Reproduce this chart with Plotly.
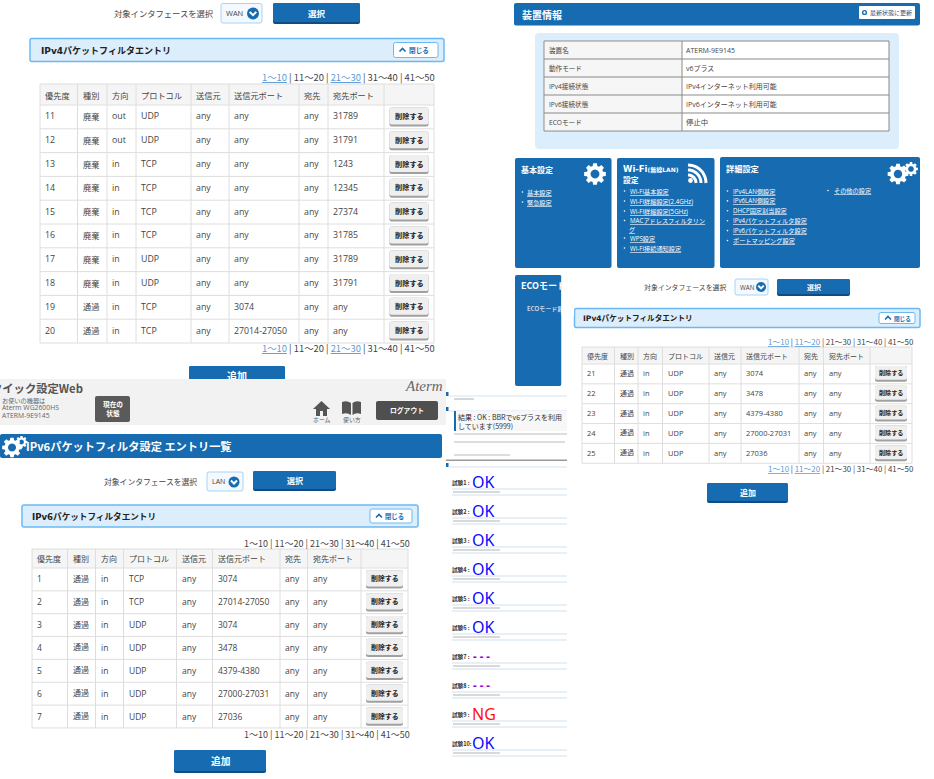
import math
import plotly.graph_objects as go

# --- テーブルのデータ ---
COLUMNS = ["優先度", "種別", "方向", "プロトコル", "送信元", "送信元ポート", "宛先", "宛先ポート"]

IPV4_11_20 = [
    ["11", "廃棄", "out", "UDP", "any", "any", "any", "31789"],
    ["12", "廃棄", "out", "UDP", "any", "any", "any", "31791"],
    ["13", "廃棄", "in", "TCP", "any", "any", "any", "1243"],
    ["14", "廃棄", "in", "TCP", "any", "any", "any", "12345"],
    ["15", "廃棄", "in", "TCP", "any", "any", "any", "27374"],
    ["16", "廃棄", "in", "TCP", "any", "any", "any", "31785"],
    ["17", "廃棄", "in", "UDP", "any", "any", "any", "31789"],
    ["18", "廃棄", "in", "UDP", "any", "any", "any", "31791"],
    ["19", "通過", "in", "TCP", "any", "3074", "any", "any"],
    ["20", "通過", "in", "TCP", "any", "27014-27050", "any", "any"],
]
IPV4_21_25 = [
    ["21", "通過", "in", "UDP", "any", "3074", "any", "any"],
    ["22", "通過", "in", "UDP", "any", "3478", "any", "any"],
    ["23", "通過", "in", "UDP", "any", "4379-4380", "any", "any"],
    ["24", "通過", "in", "UDP", "any", "27000-27031", "any", "any"],
    ["25", "通過", "in", "UDP", "any", "27036", "any", "any"],
]
IPV6_1_7 = [
    ["1", "通過", "in", "TCP", "any", "3074", "any", "any"],
    ["2", "通過", "in", "TCP", "any", "27014-27050", "any", "any"],
    ["3", "通過", "in", "UDP", "any", "3074", "any", "any"],
    ["4", "通過", "in", "UDP", "any", "3478", "any", "any"],
    ["5", "通過", "in", "UDP", "any", "4379-4380", "any", "any"],
    ["6", "通過", "in", "UDP", "any", "27000-27031", "any", "any"],
    ["7", "通過", "in", "UDP", "any", "27036", "any", "any"],
]
PAGES = ["1～10", "11～20", "21～30", "31～40", "41～50"]

DEVICE_INFO = [
    ["装置名", "ATERM-9E9145"],
    ["動作モード", "v6プラス"],
    ["IPv4接続状態", "IPv4インターネット利用可能"],
    ["IPv6接続状態", "IPv6インターネット利用可能"],
    ["ECOモード", "停止中"],
]
BASIC_LINKS = ["基本設定", "緊急設定"]
WIFI_LINKS = ["Wi-Fi基本設定", "Wi-Fi詳細設定(2.4GHz)", "Wi-Fi詳細設定(5GHz)", "MACアドレスフィルタリン", "グ", "WPS設定", "Wi-Fi接続通知設定"]
DETAIL_LINKS = ["IPv4LAN側設定", "IPv6LAN側設定", "DHCP固定割当設定", "IPv4パケットフィルタ設定", "IPv6パケットフィルタ設定", "ポートマッピング設定"]
TEST_LABELS = ["試験1 :", "試験2 :", "試験3 :", "試験4 :", "試験5 :", "試験6 :", "試験7 :", "試験8 :", "試験9 :", "試験10:"]
TEST_RESULTS = ["OK", "OK", "OK", "OK", "OK", "OK", "---", "---", "NG", "OK"]

BLUE = "#176bb0"
DARK = "#0e4c82"
PALE = "#dcedfb"
EDGE = "#6bb9f3"
GRID = "#dedede"
TEXT = "#444444"
LINK = "#5b9bd5"
FONT = "Open Sans, Noto Sans CJK JP"
JP = "Noto Sans CJK JP"
TITLE_FONT = "DejaVu Sans, Noto Sans CJK JP"

shapes = []
notes = []
clipped = []  # パネルの下に隠れる文字


def rect(x0, y0, x1, y1, fill=None, line=None, lw=1, r=0, layer="below"):
    if r:
        path = (f"M{x0+r},{y0} L{x1-r},{y0} Q{x1},{y0} {x1},{y0+r} L{x1},{y1-r} Q{x1},{y1} {x1-r},{y1} "
                f"L{x0+r},{y1} Q{x0},{y1} {x0},{y1-r} L{x0},{y0+r} Q{x0},{y0} {x0+r},{y0} Z")
    else:
        path = f"M{x0},{y0} L{x1},{y0} L{x1},{y1} L{x0},{y1} Z"
    shapes.append(dict(type="path", path=path, xref="x", yref="y", layer=layer,
                       fillcolor=fill or "rgba(0,0,0,0)",
                       line=dict(color=line or "rgba(0,0,0,0)", width=lw if line else 0)))


def stroke(path, color, lw):
    shapes.append(dict(type="path", path=path, xref="x", yref="y", layer="below",
                       line=dict(color=color, width=lw), fillcolor="rgba(0,0,0,0)"))


def fill_path(path, color):
    shapes.append(dict(type="path", path=path, xref="x", yref="y", layer="below",
                       fillcolor=color, line=dict(width=0)))


def label(x, y, text, size=10, color=TEXT, anchor="left", bold=False, family=FONT, under=False):
    font = dict(size=size, color=color, family=family)
    if under:
        font["lineposition"] = "under"
    notes.append(dict(x=x, y=y, xref="x", yref="y", text=f"<b>{text}</b>" if bold else text,
                      showarrow=False, xanchor=anchor, yanchor="middle", font=font,
                      borderpad=0, borderwidth=0))


def gear(cx, cy, r, color="white", teeth=8):
    pts = []
    for i in range(teeth):
        a = 2 * math.pi * i / teeth
        w = math.pi / teeth * 0.55
        for da, rr in [(-w * 1.3, 0.76), (-w * 0.8, 1.0), (w * 0.8, 1.0), (w * 1.3, 0.76)]:
            pts.append((cx + rr * r * math.cos(a + da), cy + rr * r * math.sin(a + da)))
    path = "M" + " L".join(f"{x:.2f},{y:.2f}" for x, y in pts) + " Z "
    hole = [(cx + 0.4 * r * math.cos(-t * math.pi / 12), cy + 0.4 * r * math.sin(-t * math.pi / 12)) for t in range(24)]
    path += "M" + " L".join(f"{x:.2f},{y:.2f}" for x, y in hole) + " Z"
    fill_path(path, color)


def circle(cx, cy, r, color):
    shapes.append(dict(type="circle", xref="x", yref="y", x0=cx - r, x1=cx + r, y0=cy - r, y1=cy + r,
                       layer="below", fillcolor=color, line=dict(width=0)))


def button(x0, y0, x1, y1, text, size=10):
    rect(x0, y0, x1, y1, DARK, r=2)
    rect(x0, y0, x1, y1 - 2, BLUE, r=2)
    label((x0 + x1) / 2, (y0 + y1) / 2 - 1, text, size, "white", "center", True, JP)


def pagination(right, y, links, size):
    parts = []
    for i, p in enumerate(PAGES):
        if i in links:
            parts.append(f'<span style="color:{LINK};text-decoration:underline">{p}</span>')
        else:
            parts.append(p)
    label(right, y, " | ".join(parts), size, TEXT, "right", family=JP)


def table(xs, top, head_h, row_h, rows, size, jp_size, del_w, del_size):
    bottom = top + head_h + row_h * len(rows)
    rect(xs[0], top, xs[-1], top + head_h, "#f5f5f5")
    for i, name in enumerate(COLUMNS):
        label(xs[i] + 5, top + head_h / 2, name, jp_size, TEXT, family=JP)
    for i, row in enumerate(rows):
        cy = top + head_h + row_h * (i + 0.5)
        for j, value in enumerate(row):
            if value.isascii():
                label(xs[j] + 5, cy - 0.5, value, size, TEXT)
            else:
                label(xs[j] + 5, cy - 1, value, jp_size, TEXT, family=JP)
        bx0 = (xs[-2] + xs[-1] - del_w) / 2
        rect(bx0, cy - row_h * 0.4, bx0 + del_w, cy + row_h * 0.4, "#a0a0a0", r=2)
        rect(bx0, cy - row_h * 0.4, bx0 + del_w, cy + row_h * 0.4 - 2, "#efefef", r=2)
        label(bx0 + del_w / 2, cy - 1, "削除する", del_size, "#222222", "center", True, JP)
    for x in xs:
        stroke(f"M{x},{top} L{x},{bottom}", GRID, 1)
    for i in range(len(rows) + 1):
        y = top + head_h + row_h * i
        stroke(f"M{xs[0]},{y} L{xs[-1]},{y}", GRID, 1)
    stroke(f"M{xs[0]},{top} L{xs[-1]},{top}", GRID, 1)


def chevron(cx, cy, s, color, lw, up=False):
    d = -s / 2 if up else s / 2
    stroke(f"M{cx-s},{cy-d} L{cx},{cy+d} L{cx+s},{cy-d}", color, lw)


def selector(lx, cy, box, circ, btn, iface, size, btn_size):
    label(lx, cy, "対象インタフェースを選択", size, TEXT, family=JP)
    rect(box[0], box[1], box[2], box[3], "#f3f9fe", "#a8d3f5", 1, 2)
    label(box[0] + 5, cy, iface, size * 0.9, TEXT)
    circle(circ[0], circ[1], circ[2], BLUE)
    chevron(circ[0], circ[1], circ[2] * 0.55, "white", 2)
    button(btn[0], btn[1], btn[2], btn[3], "選択", btn_size)


def filter_head(x0, y0, x1, y1, tx, title, close_x0, close_x1, size):
    rect(x0, y0, x1, y1, PALE, EDGE, 1.5, 2)
    cy = (y0 + y1) / 2
    label(tx, cy, title, size, "#222222", bold=True, family=TITLE_FONT)
    rect(close_x0, y0 + 4, close_x1, y1 - 4, "white", EDGE, 1, 2)
    chevron(close_x0 + 9, cy, 3, BLUE, 1.6, up=True)
    label(close_x0 + 15, cy, "閉じる", size * 0.74, BLUE, bold=True, family=JP)


# --- 左上: IPv4 11～20 ---
selector(114, 13, (221, 3.5, 262, 23), (253, 13.5, 6), (273, 3, 360, 24), "WAN", 8.3, 8.5)
filter_head(30, 38.5, 444, 61.5, 41, "IPv4パケットフィルタエントリ", 393.5, 438, 9)
pagination(435, 77, [0, 2], 9.4)
table([40, 77.5, 107, 136, 191, 229, 299, 328, 384, 434], 84, 21, 23.8, IPV4_11_20, 8.8, 8.2, 39, 7.2)
pagination(435, 348, [0, 2], 9.4)
rect(189, 366, 285, 392, DARK, r=2)
rect(189, 366, 285, 390, BLUE, r=2)
clipped.append((237, 377, "追加"))

# --- 右上: 装置情報 ---
rect(514, 3, 920, 25.5, BLUE, r=2)
label(522, 14, "装置情報", 10, "white", bold=True, family=JP)
rect(859, 6, 915, 19, "white", r=1)
circle(864.5, 12.5, 2.6, BLUE)
circle(864.5, 12.5, 1.2, "white")
label(870, 12.5, "最新状態に更新", 6, "#1a4f80", family=JP)
rect(535, 33, 899, 149, PALE, r=4)
rect(544, 41, 889, 131, "white", "#8a8a8a", 1)
rect(545, 42, 682, 130, "#f6f6f6")
for i, (name, value) in enumerate(DEVICE_INFO):
    cy = 41 + 18 * (i + 0.5)
    label(549, cy, name, 6.6, TEXT)
    label(686, cy, value, 7 if i != 4 else 7.4, TEXT)
    if i:
        stroke(f"M544,{41+18*i} L889,{41+18*i}", "#8a8a8a", 1)
stroke("M682,41 L682,131", "#8a8a8a", 1)

# カード
rect(515, 158, 611.5, 268, BLUE, r=2)
label(521, 169, "基本設定", 8, "white", bold=True, family=JP)
gear(595, 174, 11)
for i, name in enumerate(BASIC_LINKS):
    circle(522.5, 192 + 10 * i, 0.8, "white")
    label(527, 192 + 10 * i, name, 6.2, "white", family=JP, under=True)

rect(617, 158, 714.5, 268, BLUE, r=2)
label(623, 169, "Wi-Fi<span style='font-size:6px'>(無線LAN)</span>", 8.5, "white", bold=True, family=TITLE_FONT)
label(623, 179.5, "設定", 7.8, "white", bold=True, family=JP)
wifi_x, wifi_y = 688, 183
circle(wifi_x + 2.5, wifi_y - 2.5, 2.4, "white")
for rad in [8, 13, 18]:
    pts = [(wifi_x + rad * math.sin(t / 12 * math.pi / 2), wifi_y - rad * math.cos(t / 12 * math.pi / 2)) for t in range(13)]
    stroke("M" + " L".join(f"{x:.1f},{y:.1f}" for x, y in pts), "white", 3)
link_ys = [191, 201, 211, 220.5, 229, 238, 248]
for name, y in zip(WIFI_LINKS, link_ys):
    if name != "グ":
        circle(624.5, y, 0.8, "white")
    label(630 if name != "グ" else 629, y, name, 6.2, "white", under=True)

rect(720, 157, 920, 268, BLUE, r=2)
label(726, 168, "詳細設定", 8.2, "white", bold=True, family=JP)
gear(898, 174, 10.5)
gear(911, 169, 7)
for i, name in enumerate(DETAIL_LINKS):
    y = 191 + 9.9 * i
    circle(727.5, y, 0.8, "white")
    label(733, y, name, 6.2, "white", under=True)
circle(828, 190.5, 0.8, "white")
label(834, 190.5, "その他の設定", 6.2, "white", under=True)

rect(515, 275, 561.5, 386, BLUE, r=2)
clipped_top = [(521, 286.5, "ECOモード"), (527, 309, "ECOモード設定")]

# --- 右下: IPv4 21～25 (ECOカードの上に重なる) ---
rect(561.5, 270, 934, 779, "white")
rect(561.5, 278, 574, 316, "white", layer="above")  # ECOカードの文字を切る
selector(644, 287, (735, 279, 768, 295), (761, 287, 5), (777, 279, 850, 296), "WAN", 6.9, 7)
filter_head(574.5, 308.5, 920, 327.5, 583, "IPv4パケットフィルタエントリ", 879, 915, 7.6)
pagination(913, 341, [0, 1], 7.9)
table([582, 614.5, 638, 662.5, 709, 741, 799, 823.5, 870, 912], 347, 17, 19.85, IPV4_21_25, 7.5, 7, 32, 6.1)
pagination(913, 468, [0, 1], 7.9)
button(707, 483, 788, 503, "追加", 8)

# --- 左下: IPv6 ---
rect(0, 379, 446, 425, "#f2f2f2")
rect(186, 379, 288, 395, "#f2f2f2", layer="above")  # 追加ボタンの文字を切る
label(83, 388, "クイック設定Web", 11.3, "#555555", "right", True, JP)
label(2, 400, "お使いの機器は", 6.2, "#666666", family=JP)
label(2, 407.5, "Aterm WG2600HS", 6.8, "#666666")
label(2, 415.5, "ATERM-9E9145", 6.8, "#666666")
rect(95, 396, 130, 422, "#5a5a5a", r=2)
label(112.5, 408.5, "現在の<br>状態", 6.7, "white", "center", True, JP)
label(443, 386, "<i>Aterm</i>", 15, "#666666", "right", False, "Liberation Serif")
rect(376, 401, 438, 420, "#4f4f4f", r=2)
label(407, 410, "ログアウト", 6.8, "white", "center", True, JP)
fill_path("M313,409 L321.5,401 L330,409 L327,409 L327,416 L323,416 L323,411 L320,411 L320,416 L316,416 L316,409 Z", "#555555")
fill_path("M342,402 Q347,400 351,403 L351,415 Q347,412 342,414 Z M352.5,403 Q356,400 361,402 L361,414 Q356,412 352.5,415 Z", "#555555")
label(321.5, 419.5, "ホーム", 5.9, "#555555", "center", family=JP)
label(351.5, 419.5, "使い方", 5.9, "#555555", "center", family=JP)

rect(0, 434, 442, 458, BLUE, r=2)
gear(12, 447.5, 10)
gear(21.5, 442, 6)
label(26, 445.5, "IPv6パケットフィルタ設定 エントリ一覧", 11.2, "white", bold=True, family=JP)
selector(104, 481, (207, 472, 243, 491), (234, 482, 5.5), (253, 471, 336, 491), "LAN", 7.8, 8)
filter_head(22, 505, 418, 527, 32, "IPv6パケットフィルタエントリ", 370, 412, 8.6)
pagination(410, 543, [], 9)
table([32, 67.5, 95.5, 123.5, 176.5, 212.5, 280, 307.5, 361, 408], 549, 19, 22.85, IPV6_1_7, 8.5, 8, 37, 6.9)
pagination(410, 734, [], 9)
button(174, 750, 266, 773, "追加", 9.7)

# --- 中央: 診断結果 ---
rect(446, 386, 567, 779, "white")
for y in [394, 409, 465]:
    rect(446, y - 2, 448.5, y + 2, BLUE)
    stroke(f"M449,{y+2} L567,{y+2}", "#d5e3f0", 1)
rect(455, 411, 567, 431, "#f7f7f7")
rect(454, 411, 456, 431, BLUE)
rect(446, 459.5, 567, 461, "#999999")
for y, x1 in [(399, 474), (434, 567), (442, 565), (455, 510)]:
    stroke(f"M454,{y} L{x1},{y}", "#bcbcbc", 1.2)
label(458, 417, "結果 : OK : BBRでv6プラスを利用", 7, "#333333", family=JP)
label(458, 426, "しています(5999)", 7, "#333333", family=JP)

result_colors = {"OK": "#0a0aff", "NG": "#ff1010", "---": "#a000e0"}
for i, (name, result) in enumerate(zip(TEST_LABELS, TEST_RESULTS)):
    y = 483 + 29 * i
    label(452, y, name, 5.6, "#333333", bold=True, family=JP)
    if result == "---":
        label(473, y - 1, "- - -", 11.5, result_colors[result], bold=True, family="Noto Sans")
    else:
        label(472, y - 1, result, 16, result_colors[result], family="Noto Sans")
    stroke(f"M452,{y+6} L567,{y+6}", "#cfe0ef", 1)
    stroke(f"M452,{y+12} L567,{y+12}", "#cfe0ef", 1)
    stroke(f"M453,{y+9} L500,{y+9}", "#b4b4b4", 1.2)

fig = go.Figure()
# パネルに隠される文字だけ trace にして、上の shape で切り取る
fig.add_trace(go.Scatter(
    x=[c[0] for c in clipped], y=[c[1] for c in clipped], text=[c[2] for c in clipped],
    mode="text", textposition="middle center", hoverinfo="skip", showlegend=False,
    textfont=dict(size=10, color="white", family=JP, weight=700),
))
fig.add_trace(go.Scatter(
    x=[c[0] for c in clipped_top], y=[c[1] for c in clipped_top], text=[c[2] for c in clipped_top],
    mode="text", textposition="middle right", hoverinfo="skip", showlegend=False,
    textfont=dict(size=[9, 6.2], color="white", family=JP, weight=[700, 400]),
))

fig.update_layout(
    width=934,
    height=779,
    margin=dict(l=0, r=0, t=0, b=0),
    paper_bgcolor="white",
    plot_bgcolor="white",
    showlegend=False,
    xaxis=dict(range=[0, 934], visible=False, fixedrange=True),
    yaxis=dict(range=[779, 0], visible=False, fixedrange=True),
    shapes=shapes,
    annotations=notes,
)

fig.write_html("out.html", config=dict(displayModeBar=False),
               post_script="document.body.style.margin='0';")
